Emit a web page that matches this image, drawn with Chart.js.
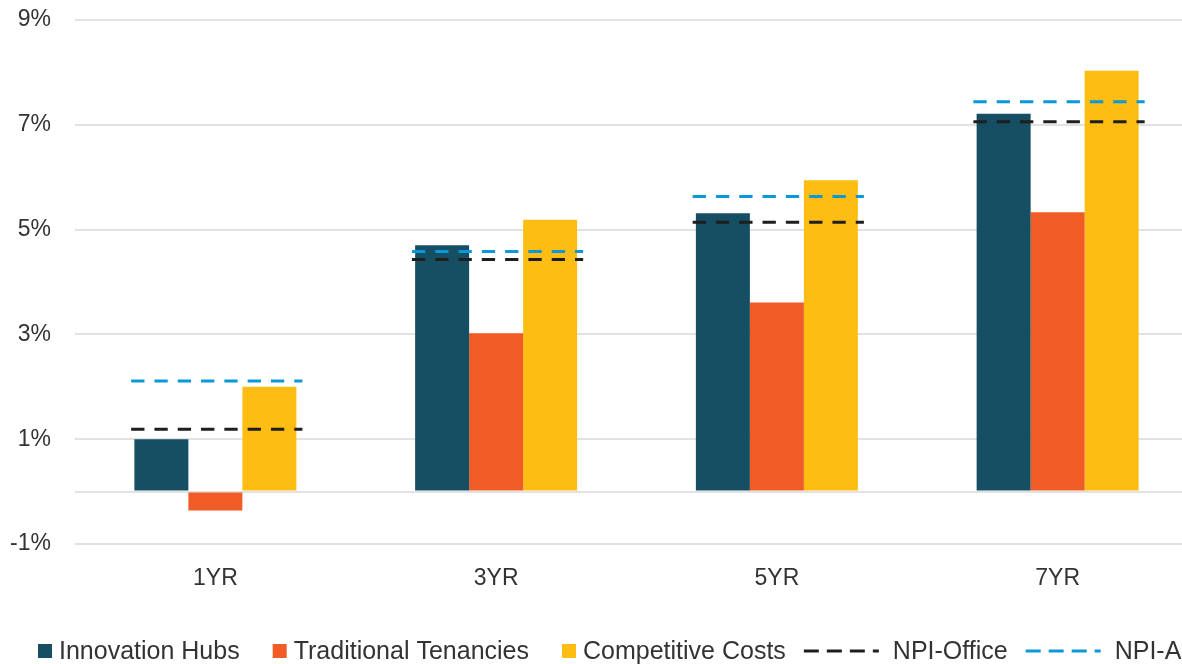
<!DOCTYPE html>
<html>
<head>
<meta charset="utf-8">
<title>Returns by strategy</title>
<script src="https://cdn.jsdelivr.net/npm/chart.js@4"></script>
<style>
  html, body { margin: 0; padding: 0; background: #fff; overflow: hidden; }
  #wrap { width: 1200px; height: 664px; }
</style>
</head>
<body>
<div id="wrap"><canvas id="chart" width="1200" height="664"></canvas></div>
<script>
// --- data (percent) ---
const categories = ['1YR', '3YR', '5YR', '7YR'];
const innovationHubs = [1.00, 4.70, 5.31, 7.21];
const traditionalTenancies = [-0.36, 3.02, 3.61, 5.33];
const competitiveCosts = [2.00, 5.19, 5.94, 8.03];
const npiOffice = [1.19, 4.43, 5.14, 7.06];
const npiAll = [2.11, 4.58, 5.63, 7.44];
const yMin = -1, yMax = 9, yStep = 2;

const Colors = {
    innovation: '#164E63',
    traditional: '#F15B25',
    competitive: '#FDBD13',
    office: '#1E1E1E',
    all: '#0A98D9',
    text: '#333333',
    grid: '#E2E2E2',
};
const FONT = '"Liberation Sans", Arial, sans-serif';

// x is a linear axis in category units (0..3), so bars and benchmark segments share it
const barPoints = values => values.map((v, i) => ({ x: i, y: v }));

// benchmark lines span most of each category band, broken between categories
function benchmarkSegments(values) {
    const pts = [];
    values.forEach((v, i) => {
        pts.push({ x: i - 0.30, y: v }, { x: i + 0.31, y: v }, { x: i + 0.5, y: null });
    });
    return pts;
}

// legend drawn along the bottom, Excel style (square swatches, dashed lines)
const bottomLegend = {
    id: 'bottomLegend',
    afterDraw(chart) {
        const ctx = chart.ctx;
        const y = 651;
        let x = 38;
        ctx.save();
        ctx.font = '25px ' + FONT;
        ctx.textBaseline = 'middle';
        chart.data.datasets.forEach((ds, i) => {
            const isLine = ds.type === 'line';
            if (i > 0) x += isLine ? 18 : 33;
            if (isLine) {
                ctx.strokeStyle = ds.borderColor;
                ctx.lineWidth = 3;
                ctx.setLineDash([15, 8]);
                ctx.beginPath();
                ctx.moveTo(x, y);
                ctx.lineTo(x + 75, y);
                ctx.stroke();
                ctx.setLineDash([]);
                x += 75 + 14;
            } else {
                ctx.fillStyle = ds.backgroundColor;
                ctx.fillRect(x, y - 7, 14, 14);
                x += 14 + 7;
            }
            ctx.fillStyle = Colors.text;
            ctx.fillText(ds.label, x, y + 1);
            x += ctx.measureText(ds.label).width;
        });
        ctx.restore();
    },
};

const lineStyle = {
    type: 'line',
    borderWidth: 3,
    borderDash: [13.3, 10],
    borderCapStyle: 'butt',
    pointRadius: 0,
    pointHoverRadius: 0,
    fill: false,
    spanGaps: false,
    tension: 0,
    order: 0,
};

new Chart(document.getElementById('chart'), {
    type: 'bar',
    data: {
        datasets: [
            { label: 'Innovation Hubs', data: barPoints(innovationHubs), backgroundColor: Colors.innovation, order: 1 },
            { label: 'Traditional Tenancies', data: barPoints(traditionalTenancies), backgroundColor: Colors.traditional, order: 1 },
            { label: 'Competitive Costs', data: barPoints(competitiveCosts), backgroundColor: Colors.competitive, order: 1 },
            { ...lineStyle, label: 'NPI-Office', data: benchmarkSegments(npiOffice), borderColor: Colors.office },
            { ...lineStyle, label: 'NPI-All', data: benchmarkSegments(npiAll), borderColor: Colors.all },
        ],
    },
    options: {
        responsive: false,
        animation: false,
        layout: { padding: { left: 10, right: 2, top: 2, bottom: 72 } },
        datasets: {
            bar: { categoryPercentage: 0.577, barPercentage: 1.0, borderWidth: 0 },
        },
        plugins: {
            legend: { display: false },
            tooltip: { enabled: false },
        },
        scales: {
            x: {
                type: 'linear',
                min: -0.5,
                max: categories.length - 0.5,
                offset: false,
                grid: { display: false, drawTicks: false, offset: false },
                border: { display: false },
                afterBuildTicks(axis) {
                    axis.ticks = categories.map((_, i) => ({ value: i }));
                },
                afterFit(axis) { axis.height = 48; },
                ticks: {
                    autoSkip: false,
                    maxRotation: 0,
                    color: Colors.text,
                    font: { family: FONT, size: 23 },
                    padding: 21,
                    callback: v => categories[v],
                },
            },
            y: {
                min: yMin,
                max: yMax,
                grid: { color: Colors.grid, lineWidth: 2, drawTicks: false },
                border: { display: false },
                afterFit(axis) {
                    axis.width = 65;
                    axis.paddingTop = 20;
                    axis.paddingBottom = 14;
                },
                afterBuildTicks(axis) {
                    if (!axis.ticks.some(t => t.value === 0)) {
                        axis.ticks.push({ value: 0 });
                        axis.ticks.sort((a, b) => a.value - b.value);
                    }
                },
                ticks: {
                    stepSize: yStep,
                    color: Colors.text,
                    font: { family: FONT, size: 23 },
                    padding: 24,
                    callback: v => (v === 0 ? '' : v + '%'),
                },
            },
        },
    },
    plugins: [bottomLegend],
});
</script>
</body>
</html>
